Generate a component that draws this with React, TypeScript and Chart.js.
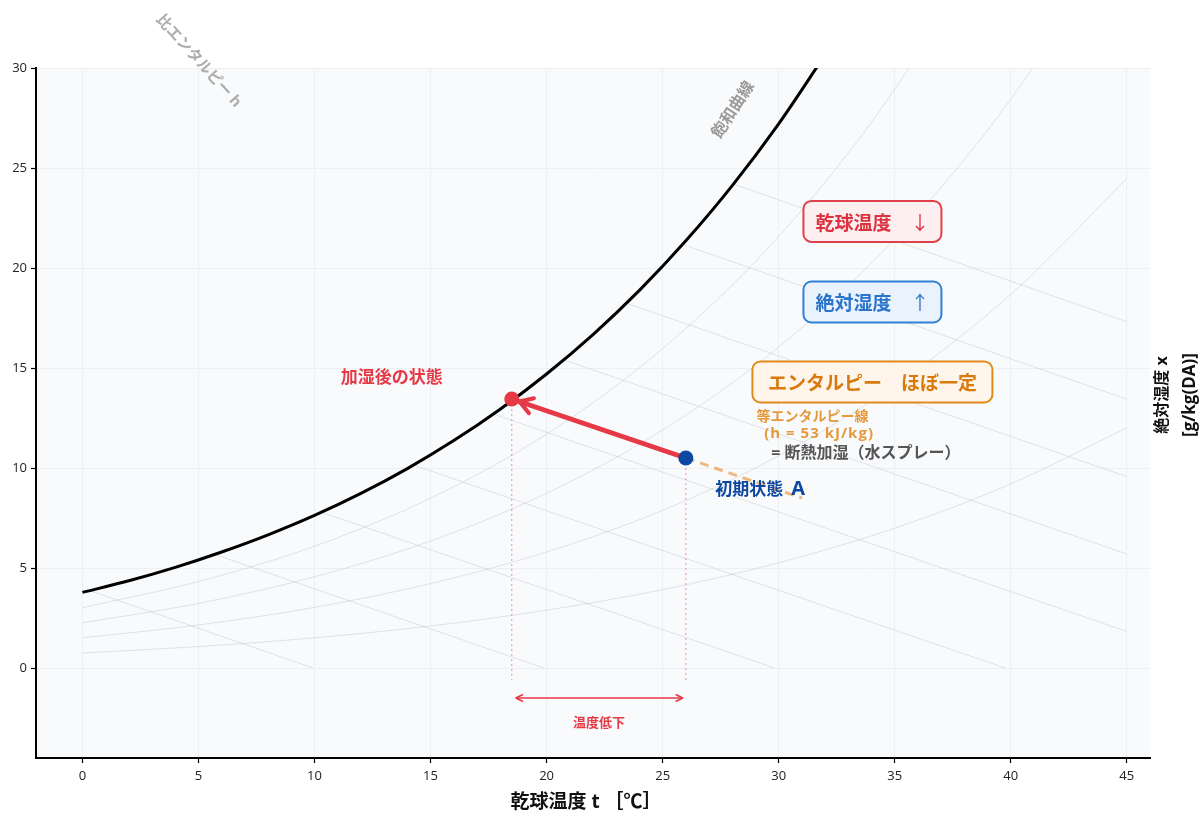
import { useEffect, useRef } from "react";
import { Chart, registerables, type ChartConfiguration, type Plugin } from "chart.js";

Chart.register(...registerables);

const FONT = '"Open Sans", "Noto Sans CJK JP", sans-serif';
const CJK = '"Noto Sans CJK JP", sans-serif';
const RED = "#e63946";
const BLUE = "#0d47a1";

// 目盛
const xTicks = [0, 5, 10, 15, 20, 25, 30, 35, 40, 45];
const yTicks = [0, 5, 10, 15, 20, 25, 30];

// 飽和曲線 (乾球温度 ℃ / 絶対湿度 g/kg(DA))
const satT = [0, 2, 4, 6, 8, 10, 12, 14, 16, 18, 20, 22, 24, 26, 28, 30, 32];
const satX = [3.78, 4.36, 5.03, 5.8, 6.66, 7.63, 8.73, 9.97, 11.37, 12.94, 14.7, 16.67, 18.88, 21.36, 24.12, 27.21, 30.66];

// 相対湿度曲線 80 / 60 / 40 / 20 %
const rhT = [0, 5, 10, 15, 20, 25, 30, 35, 40, 45];
const rh80 = [3.02, 4.32, 6.09, 8.49, 11.7, 15.97, 21.58, 28.93, 38.5];
const rh60 = [2.26, 3.23, 4.56, 6.35, 8.74, 11.9, 16.05, 21.45, 28.44, 37.4];
const rh40 = [1.51, 2.15, 3.03, 4.22, 5.8, 7.88, 10.61, 14.14, 18.68, 24.48];
const rh20 = [0.75, 1.07, 1.51, 2.1, 2.89, 3.92, 5.26, 6.99, 9.2, 12.01];

// 等エンタルピー線 h = 10 … 90 kJ/kg
const enthalpyH = [10, 20, 30, 40, 50, 60, 70, 80, 90];
const enthStartT = [0.32, 5.7, 10.3, 14.26, 17.7, 20.74, 23.44, 25.86, 28.05];
const enthStartX = [3.87, 5.68, 7.79, 10.15, 12.7, 15.41, 18.24, 21.18, 24.2];
const enthEndT = [9.94, 19.88, 29.82, 39.76, 45, 45, 45, 45, 45];
const enthEndX = [0, 0, 0, 0, 1.83, 5.7, 9.57, 13.44, 17.31];

// 状態点: [初期状態 A, 加湿後]
const stateT = [26, 18.5];
const stateX = [10.5, 13.45];
const isoLineEndT = 31;
const isoLineEndX = 8.5;
const dropFloorX = -0.6;

const pts = (ts: number[], xs: number[]) => xs.map((v, i) => ({ x: ts[i], y: v }));

const thin = {
  borderColor: "rgba(160,165,170,0.32)",
  borderWidth: 0.9,
  pointRadius: 0,
  order: 10,
};

const drawBox = (
  ctx: CanvasRenderingContext2D,
  cx: number,
  cy: number,
  w: number,
  fill: string,
  stroke: string,
  color: string,
  label: string,
  arrow?: string,
) => {
  const h = 41;
  ctx.save();
  ctx.beginPath();
  ctx.roundRect(cx - w / 2, cy - h / 2, w, h, 8);
  ctx.fillStyle = fill;
  ctx.fill();
  ctx.lineWidth = 2;
  ctx.strokeStyle = stroke;
  ctx.stroke();
  ctx.fillStyle = color;
  ctx.textBaseline = "middle";
  ctx.textAlign = "left";
  ctx.font = `bold 19px ${CJK}`;
  const lw = ctx.measureText(label).width;
  ctx.font = `19px ${CJK}`;
  const aw = arrow ? ctx.measureText(arrow).width : 0;
  const gap = arrow ? 19 : 0;
  const x0 = cx - (lw + gap + aw) / 2;
  ctx.font = `bold 19px ${CJK}`;
  ctx.fillText(label, x0, cy + 1);
  if (arrow) {
    ctx.font = `19px ${CJK}`;
    ctx.fillText(arrow, x0 + lw + gap, cy + 1);
  }
  ctx.restore();
};

const text = (
  ctx: CanvasRenderingContext2D,
  s: string,
  x: number,
  y: number,
  font: string,
  color: string,
  align: CanvasTextAlign = "center",
  rot = 0,
  spacing = 0,
) => {
  ctx.save();
  ctx.translate(x, y);
  ctx.rotate(rot);
  ctx.font = font;
  ctx.fillStyle = color;
  ctx.textAlign = align;
  ctx.textBaseline = "middle";
  if (spacing) {
    (ctx as CanvasRenderingContext2D & { letterSpacing: string }).letterSpacing = `${spacing}px`;
  }
  ctx.fillText(s, 0, 0);
  ctx.restore();
};

const chevron = (
  ctx: CanvasRenderingContext2D,
  tx: number,
  ty: number,
  dx: number,
  dy: number,
  len: number,
  ang: number,
) => {
  // dx, dy: unit vector pointing back from the tip
  for (const s of [-1, 1]) {
    const c = Math.cos(s * ang);
    const sn = Math.sin(s * ang);
    ctx.beginPath();
    ctx.moveTo(tx, ty);
    ctx.lineTo(tx + (dx * c - dy * sn) * len, ty + (dx * sn + dy * c) * len);
    ctx.stroke();
  }
};

const psychroPlugin: Plugin<"line"> = {
  id: "psychro",
  beforeDraw(chart) {
    const { ctx, chartArea: a } = chart;
    ctx.save();
    ctx.fillStyle = "#f8fafc";
    ctx.fillRect(a.left, a.top, a.right - a.left, a.bottom - a.top);
    ctx.restore();
  },
  afterDatasetsDraw(chart) {
    const { ctx, chartArea: a } = chart;
    const sx = chart.scales.x;
    const sy = chart.scales.y;
    const px = (t: number) => sx.getPixelForValue(t);
    const py = (v: number) => sy.getPixelForValue(v);

    // 矢印の頭 (A → 加湿後)
    const ax = px(stateT[0]);
    const ay = py(stateX[0]);
    const bx = px(stateT[1]);
    const by = py(stateX[1]);
    const L = Math.hypot(ax - bx, ay - by);
    const ux = (ax - bx) / L;
    const uy = (ay - by) / L;
    ctx.save();
    ctx.strokeStyle = RED;
    ctx.lineWidth = 4;
    ctx.lineCap = "round";
    chevron(ctx, bx + ux * 8, by + uy * 8, ux, uy, 15, 0.55);
    ctx.restore();

    // 温度低下の両矢印
    const yy = py(-1.5);
    const l = bx + 4;
    const r = ax - 3;
    ctx.save();
    ctx.strokeStyle = RED;
    ctx.lineWidth = 1.5;
    ctx.beginPath();
    ctx.moveTo(l, yy);
    ctx.lineTo(r, yy);
    ctx.stroke();
    chevron(ctx, l, yy, 1, 0, 8, 0.45);
    chevron(ctx, r, yy, -1, 0, 8, 0.45);
    ctx.restore();
    text(ctx, "温度低下", px(22.26), py(-2.7), `bold 13px ${CJK}`, RED);

    // ラベル
    text(ctx, "加湿後の状態", px(13.33), py(14.55), `bold 17px ${CJK}`, RED);
    ctx.save();
    ctx.font = `bold 17px ${CJK}`;
    const w1 = ctx.measureText("初期状態").width;
    ctx.restore();
    const lx = px(27.27);
    text(ctx, "初期状態", lx, py(8.95), `bold 17px ${CJK}`, BLUE, "left");
    text(ctx, "A", lx + w1 + 8, py(8.95), `bold 20px ${FONT}`, BLUE, "left");

    text(ctx, "等エンタルピー線", px(29.04), py(12.6), `bold 14px ${CJK}`, "#e49a3c", "left");
    text(ctx, "(h = 53 kJ/kg)", px(29.38), py(11.7), `bold 15px ${FONT}`, "#e49a3c", "left", 0, 1);
    text(ctx, "= 断熱加湿（水スプレー）", px(29.68), py(10.75), `bold 16px ${FONT}`, "#555555", "left");

    text(ctx, "飽和曲線", px(28.0), py(27.95), `bold 16px ${CJK}`, "#9a9a9a", "center", (-57 * Math.PI) / 180);
    text(ctx, "比エンタルピー h", px(5.0), py(30.35), `bold 15px ${FONT}`, "#adadad", "center", (48 * Math.PI) / 180);

    // 変化の説明ボックス
    const bcx = px(34.04);
    drawBox(ctx, bcx, py(22.33), 138, "#fdeeef", "#e0404a", "#dd3341", "乾球温度", "↓");
    drawBox(ctx, bcx, py(18.3), 138, "#eaf3fd", "#3080d8", "#2a74cc", "絶対湿度", "↑");
    drawBox(ctx, bcx, py(14.3), 240, "#fff5ea", "#e08a1c", "#d77b0f", "エンタルピー　ほぼ一定");

    // 軸タイトル
    text(ctx, "乾球温度 t ［℃］", (a.left + a.right) / 2 - 7, 803, `bold 19px ${FONT}`, "#111111");
    const ymid = (a.top + a.bottom) / 2 - 18;
    text(ctx, "絶対湿度 x", a.right + 12, ymid, `bold 16px ${FONT}`, "#111111", "center", -Math.PI / 2);
    text(ctx, "[g/kg(DA)]", a.right + 40, ymid, `bold 17px ${FONT}`, "#111111", "center", -Math.PI / 2);
  },
};

export default function App() {
  const canvasRef = useRef<HTMLCanvasElement | null>(null);

  useEffect(() => {
    document.body.style.margin = "0";
    const canvas = canvasRef.current;
    if (!canvas) {
      return;
    }

    const enthalpySets = enthalpyH.map((h, i) => ({
      label: `h=${h}`,
      data: [
        { x: enthStartT[i], y: enthStartX[i] },
        { x: enthEndT[i], y: enthEndX[i] },
      ],
      ...thin,
      tension: 0,
    }));

    const rhSets = [rh80, rh60, rh40, rh20].map((xs, i) => ({
      label: `rh${80 - i * 20}`,
      data: pts(rhT, xs),
      ...thin,
      cubicInterpolationMode: "monotone" as const,
      clip: 0,
    }));

    const config: ChartConfiguration<"line"> = {
      type: "line",
      data: {
        datasets: [
          {
            label: "状態点",
            data: pts(stateT, stateX),
            showLine: false,
            pointRadius: 7.5,
            pointHoverRadius: 7.5,
            pointBorderWidth: 0,
            pointBackgroundColor: [BLUE, RED],
            order: 0,
          },
          {
            label: "変化",
            data: pts(stateT, stateX),
            borderColor: RED,
            borderWidth: 5,
            pointRadius: 0,
            order: 1,
          },
          {
            label: "等エンタルピー",
            data: [
              { x: stateT[0], y: stateX[0] },
              { x: isoLineEndT, y: isoLineEndX },
            ],
            borderColor: "rgba(236,168,96,0.8)",
            borderWidth: 3,
            borderDash: [9, 6],
            pointRadius: 0,
            order: 2,
          },
          ...stateT.map((t, i) => ({
            label: `drop${i}`,
            data: [
              { x: t, y: stateX[i] },
              { x: t, y: dropFloorX },
            ],
            borderColor: "rgba(230,57,70,0.55)",
            borderWidth: 1,
            borderDash: [2, 3],
            pointRadius: 0,
            order: 3,
          })),
          {
            label: "飽和曲線",
            data: pts(satT, satX),
            borderColor: "#000000",
            borderWidth: 3,
            pointRadius: 0,
            cubicInterpolationMode: "monotone",
            clip: 0,
            order: 4,
          },
          ...rhSets,
          ...enthalpySets,
        ],
      },
      options: {
        animation: false,
        responsive: true,
        maintainAspectRatio: false,
        events: [],
        layout: { padding: { left: 0, right: 50, top: 68, bottom: 0 } },
        plugins: {
          legend: { display: false },
          tooltip: { enabled: false },
        },
        scales: {
          x: {
            type: "linear",
            min: -2,
            max: 46,
            afterBuildTicks(scale) {
              scale.ticks = xTicks.map((v) => ({ value: v }));
            },
            afterFit(scale) {
              scale.height = 65;
            },
            ticks: {
              font: { family: FONT, size: 13 },
              color: "#222222",
              padding: 5,
              maxRotation: 0,
            },
            grid: {
              color: "#edf0f3",
              tickColor: "#000000",
              tickLength: 5,
              tickWidth: 1.2,
            },
            border: { color: "#000000", width: 2 },
          },
          y: {
            type: "linear",
            min: -4.5,
            max: 30,
            afterBuildTicks(scale) {
              scale.ticks = yTicks.map((v) => ({ value: v }));
            },
            afterFit(scale) {
              scale.width = 36;
            },
            ticks: {
              font: { family: FONT, size: 13 },
              color: "#222222",
              padding: 4,
            },
            grid: {
              color: "#edf0f3",
              tickColor: "#000000",
              tickLength: 5,
              tickWidth: 1.2,
            },
            border: { color: "#000000", width: 2 },
          },
        },
      },
      plugins: [psychroPlugin],
    };

    const chart = new Chart(canvas, config);

    return () => {
      chart.destroy();
    };
  }, []);

  return (
    <div style={{ width: 1200, height: 823, position: "relative", background: "#ffffff" }}>
      <canvas ref={canvasRef} />
    </div>
  );
}
